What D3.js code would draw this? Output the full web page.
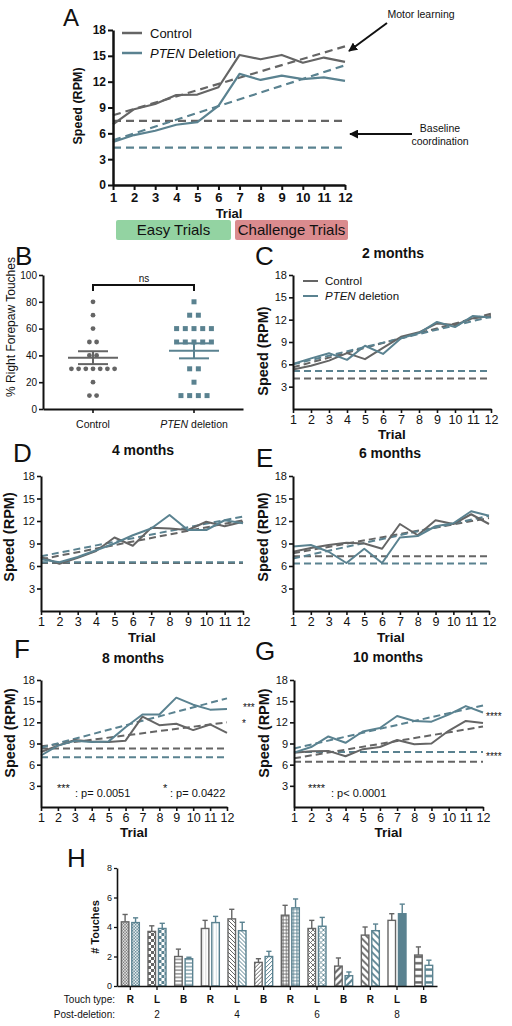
<!DOCTYPE html>
<html><head><meta charset="utf-8">
<script src="https://cdn.jsdelivr.net/npm/d3@7"></script>
<style>
body{margin:0;background:#fff}
svg{display:block}
text{font-family:"Liberation Sans",Arial,Helvetica,sans-serif;fill:#111}
</style>
</head><body>
<svg id="c" width="512" height="1026"></svg>
<script>
// ---------------- DATA ----------------
const trials = [1,2,3,4,5,6,7,8,9,10,11,12];
const speedTicksA = [0,3,6,9,12,15,18];
const speedTicks = [3,6,9,12,15,18];

// Panel A
const aControl = [7.05,8.8,9.4,10.45,10.5,11.35,15.1,14.6,15.1,14.2,14.8,14.3];
const aPten    = [5.0,5.8,6.3,7.0,7.3,9.2,12.9,12.2,12.7,12.3,12.5,12.1];
const aTrendControl = [8.1,16.1];
const aTrendPten    = [5.2,13.9];
const aBaseline = [7.45,4.35]; // control, PTEN

// Panel B
const bCategories = ["Control","PTEN deletion"];
const bControl = [80,70,60,50,50,40,40,30,30,30,30,30,30,30,20,10,10];
const bPten = [80,70,70,60,60,60,60,60,50,50,50,50,50,30,30,20,10,10,10,10];
const bMean = [38.3,43.4];
const bSem  = [4.8,5.6];
const bTicks = [0,20,40,60,80,100];

// Panel C (2 months)
const cControl = [5.3,5.8,6.5,7.5,6.7,8.2,9.7,10.3,11.5,11.3,12.2,12.5];
const cPten    = [6.05,6.8,7.5,6.6,8.5,7.4,9.5,10.2,11.7,11.0,12.5,12.3];
const cTrendControl = [5.6,12.8];
const cTrendPten    = [6.0,12.4];
const cBaseline = [4.1,5.1];
// Panel D (4 months)
const dControl = [7.2,6.3,7.1,8.0,9.8,8.7,11.1,11.0,10.8,11.9,11.3,11.9];
const dPten    = [6.9,6.5,7.2,8.1,9.0,10.1,11.0,12.8,10.8,10.8,12.1,11.7];
const dTrendControl = [6.9,12.1];
const dTrendPten    = [7.3,12.6];
const dBaseline = [6.4,6.5];
// Panel E (6 months)
const eControl = [7.9,8.4,8.8,9.1,9.0,8.3,11.6,10.1,12.1,11.6,12.9,11.6];
const ePten    = [8.6,8.8,7.9,6.4,8.3,6.4,9.8,10.0,11.3,11.7,13.3,12.7];
const eTrendControl = [7.7,12.4];
const eTrendPten    = [7.0,12.7];
const eBaseline = [7.3,6.35];
// Panel F (8 months)
const fControl = [7.8,8.7,9.5,9.3,9.2,9.4,12.8,11.6,11.8,10.9,11.7,10.5];
const fPten    = [7.3,8.7,9.4,9.2,9.3,11.3,13.1,13.1,15.5,14.5,13.8,13.9];
const fTrendControl = [8.6,12.0];
const fTrendPten    = [8.4,15.4];
const fBaseline = [8.3,7.05];
// Panel G (10 months)
const gControl = [7.7,7.9,7.95,7.2,8.2,8.5,9.5,8.9,9.0,10.8,12.2,11.9];
const gPten    = [7.7,8.5,10.0,9.1,10.7,11.2,12.9,12.2,12.1,13.1,14.3,13.4];
const gTrendControl = [6.9,11.4];
const gTrendPten    = [8.3,14.4];
const gBaseline = [6.4,7.8];

// Panel H
const hTouchTypes = ["R","L","B","R","L","B","R","L","B","R","L","B"];
const hGroups = ["2","4","6","8"];
const hControl    = [4.35,3.7,2.0,3.9,4.55,1.6,4.8,3.9,1.35,3.45,4.45,2.1];
const hControlErr = [0.5,0.38,0.5,0.55,0.65,0.25,0.67,0.55,0.55,0.55,0.45,0.55];
const hPten       = [4.3,3.9,1.85,4.3,3.75,2.0,5.3,4.05,0.7,3.75,4.9,1.4];
const hPtenErr    = [0.32,0.35,0.1,0.42,0.57,0.35,0.6,0.6,0.25,0.45,0.65,0.35];
const hTicks = [0,2,4,6,8];

// ---------------- STYLE ----------------
const GRAY = "#656565", BLUE = "#5a8290";
const hPatternTypes = ["checkfine","checker","hlines","vlines","diagback","diagfwd","grid","crossdiag","widefwd","wideback","solid","bricks"];

const svg = d3.select("#c");
const defs = svg.append("defs");

function styleAxis(ax, sw, fs, bold){
  ax.select(".domain").attr("stroke","#111").attr("stroke-width",sw);
  ax.selectAll(".tick line").attr("stroke","#111").attr("stroke-width",sw*0.8);
  ax.selectAll(".tick text").attr("fill","#111").style("font-size",fs+"px").style("font-weight",bold?"bold":"normal");
}

function addText(x,y,t,o={}){
  const el = svg.append("text").attr("x",x).attr("y",y)
    .attr("text-anchor",o.anchor||"start")
    .style("font-size",(o.size||12)+"px")
    .style("font-weight",o.bold?"bold":"normal");
  if(o.rotate){ el.attr("transform",`rotate(-90,${x},${y})`); }
  if(o.fill) el.style("fill",o.fill);
  el.text(t);
  return el;
}

function speedPanel(o){
  const x = d3.scaleLinear().domain([1,12]).range([o.left,o.right]);
  const y = d3.scaleLinear().domain([0,18]).range([o.bottom,o.top]);
  const g = svg.append("g");
  const dash = o.dash || "7,4";
  [[o.base[0],GRAY],[o.base[1],BLUE]].forEach(([v,c])=>{
    g.append("line").attr("x1",x(1)).attr("x2",x(12)).attr("y1",y(v)).attr("y2",y(v))
      .attr("stroke",c).attr("stroke-width",o.dw||2).attr("stroke-dasharray",dash);
  });
  [[o.trendC,GRAY],[o.trendP,BLUE]].forEach(([t,c])=>{
    g.append("line").attr("x1",x(1)).attr("x2",x(12)).attr("y1",y(t[0])).attr("y2",y(t[1]))
      .attr("stroke",c).attr("stroke-width",o.dw||2).attr("stroke-dasharray",dash);
  });
  const line = d3.line().x((d,i)=>x(trials[i])).y(d=>y(d));
  [[o.control,GRAY],[o.pten,BLUE]].forEach(([arr,c])=>{
    g.append("path").datum(arr).attr("d",line).attr("fill","none")
      .attr("stroke",c).attr("stroke-width",o.lw||2).attr("stroke-linejoin","round");
  });
  const xa = g.append("g").attr("transform",`translate(0,${o.bottom})`)
    .call(d3.axisBottom(x).tickValues(trials).tickSize(o.ts||4).tickSizeOuter(0).tickPadding(o.tp||3).tickFormat(d3.format("d")));
  styleAxis(xa, o.aw||2, o.xfs||13, o.bold);
  const ya = g.append("g").attr("transform",`translate(${o.left},0)`)
    .call(d3.axisLeft(y).tickValues(o.yTicks).tickSize(o.ts||4).tickSizeOuter(0).tickPadding(2).tickFormat(d3.format("d")));
  styleAxis(ya, o.aw||2, o.yfs||11, o.bold);
  return {x,y};
}

// ---------------- PANEL A ----------------
const A = speedPanel({left:113,right:345,bottom:185,top:30,control:aControl,pten:aPten,
  trendC:aTrendControl,trendP:aTrendPten,base:aBaseline,yTicks:speedTicksA,
  aw:2.5,ts:5,xfs:13,yfs:12,bold:true,dw:2.2,lw:2.2,dash:"8,5"});
addText(63,26,"A",{size:24});
addText(82,106,"Speed (RPM)",{size:12.5,bold:true,anchor:"middle",rotate:true});
addText(229,218,"Trial",{size:13,bold:true,anchor:"middle"});
// legend A
svg.append("line").attr("x1",122).attr("x2",142).attr("y1",33).attr("y2",33).attr("stroke",GRAY).attr("stroke-width",2.5);
svg.append("line").attr("x1",122).attr("x2",142).attr("y1",53).attr("y2",53).attr("stroke",BLUE).attr("stroke-width",2.5);
addText(150,38,"Control",{size:13});
const la = addText(150,58,"",{size:13});
la.append("tspan").style("font-style","italic").text("PTEN");
la.append("tspan").text(" Deletion");
// arrows
defs.append("marker").attr("id","arr").attr("viewBox","0 0 10 10").attr("refX",9).attr("refY",5)
  .attr("markerWidth",4.5).attr("markerHeight",4.5).attr("orient","auto")
  .append("path").attr("d","M0,0L10,5L0,10z").attr("fill","#111");
svg.append("line").attr("x1",387).attr("y1",23).attr("x2",349).attr("y2",51).attr("stroke","#111").attr("stroke-width",2).attr("marker-end","url(#arr)");
svg.append("line").attr("x1",412).attr("y1",134).attr("x2",350).attr("y2",134).attr("stroke","#111").attr("stroke-width",2).attr("marker-end","url(#arr)");
addText(421,18,"Motor learning",{size:10.5,anchor:"middle"});
addText(440,132,"Baseline",{size:10.5,anchor:"middle"});
addText(440,145,"coordination",{size:10.5,anchor:"middle"});
// Easy / Challenge boxes
svg.append("rect").attr("x",116).attr("y",220).attr("width",115).attr("height",20).attr("rx",2).attr("fill","#93d3a2");
svg.append("rect").attr("x",235).attr("y",220).attr("width",113).attr("height",20).attr("rx",2).attr("fill","#da8b8e");
addText(173.5,235,"Easy Trials",{size:15,anchor:"middle"});
addText(291.5,235,"Challenge Trials",{size:15,anchor:"middle"});

// ---------------- PANEL B ----------------
(function(){
  const x = d3.scalePoint().domain(bCategories).range([93,194]);
  const y = d3.scaleLinear().domain([0,100]).range([409,275]);
  const g = svg.append("g");
  const xa = g.append("g").attr("transform","translate(0,409)")
    .call(d3.axisBottom(d3.scaleLinear().domain([0,1]).range([43,243])).tickValues([]).tickSizeOuter(0));
  styleAxis(xa,2,10,false);
  bCategories.forEach(c=>{
    g.append("line").attr("x1",x(c)).attr("x2",x(c)).attr("y1",409).attr("y2",413).attr("stroke","#111").attr("stroke-width",1.6);
  });
  const ya = g.append("g").attr("transform","translate(43,0)")
    .call(d3.axisLeft(y).tickValues(bTicks).tickSize(4).tickSizeOuter(0).tickPadding(2));
  styleAxis(ya,2,10,false);
  function swarm(vals){
    const groups = d3.groups(vals,d=>d);
    const out=[];
    groups.forEach(([v,arr])=>arr.forEach((d,i)=>out.push({v,off:i-(arr.length-1)/2})));
    return out;
  }
  g.selectAll(".cdot").data(swarm(bControl)).join("circle")
    .attr("cx",d=>x(bCategories[0])+d.off*7.2).attr("cy",d=>y(d.v)).attr("r",2.4).attr("fill",GRAY);
  g.selectAll(".pdot").data(swarm(bPten)).join("rect")
    .attr("x",d=>x(bCategories[1])+d.off*8.7-2.5).attr("y",d=>y(d.v)-2.5).attr("width",5).attr("height",5).attr("fill",BLUE);
  [[0,GRAY],[1,BLUE]].forEach(([i,c])=>{
    const cx = x(bCategories[i]);
    g.append("line").attr("x1",cx-25).attr("x2",cx+25).attr("y1",y(bMean[i])).attr("y2",y(bMean[i])).attr("stroke",c).attr("stroke-width",2);
    g.append("line").attr("x1",cx).attr("x2",cx).attr("y1",y(bMean[i]-bSem[i])).attr("y2",y(bMean[i]+bSem[i])).attr("stroke",c).attr("stroke-width",2);
    [bMean[i]-bSem[i],bMean[i]+bSem[i]].forEach(v=>
      g.append("line").attr("x1",cx-15).attr("x2",cx+15).attr("y1",y(v)).attr("y2",y(v)).attr("stroke",c).attr("stroke-width",2));
  });
  g.append("path").attr("d",`M${x(bCategories[0])},291V285H${x(bCategories[1])}V291`).attr("fill","none").attr("stroke","#111").attr("stroke-width",2);
  addText(144,282,"ns",{size:10,anchor:"middle"});
  addText(x(bCategories[0]),428,"Control",{size:10.5,anchor:"middle"});
  const t = addText(x(bCategories[1]),428,"",{size:10.5,anchor:"middle"});
  t.append("tspan").style("font-style","italic").text("PTEN");
  t.append("tspan").text(" deletion");
  addText(15,327,"% Right Forepaw Touches",{size:12,anchor:"middle",rotate:true});
  addText(15,265,"B",{size:26});
})();

// ---------------- PANELS C-G ----------------
const small = [
  {L:"C",lx:255,ly:265,title:"2 months",tx:393,ty:258,left:293,right:491,bottom:409,top:275,c:cControl,p:cPten,tc:cTrendControl,tp:cTrendPten,b:cBaseline,ylx:268,yly:351,tly:439},
  {L:"D",lx:13,ly:462,title:"4 months",tx:143,ty:455,left:41,right:243,bottom:611,top:476,c:dControl,p:dPten,tc:dTrendControl,tp:dTrendPten,b:dBaseline,ylx:14,yly:537,tly:642},
  {L:"E",lx:256,ly:467,title:"6 months",tx:390,ty:458,left:293,right:489,bottom:611,top:476,c:eControl,p:ePten,tc:eTrendControl,tp:eTrendPten,b:eBaseline,ylx:268,yly:537,tly:642},
  {L:"F",lx:14,ly:658,title:"8 months",tx:133,ty:663,left:41,right:227,bottom:807,top:680,c:fControl,p:fPten,tc:fTrendControl,tp:fTrendPten,b:fBaseline,ylx:15,yly:733,tly:837},
  {L:"G",lx:255,ly:660,title:"10 months",tx:388,ty:662,left:294,right:483,bottom:807,top:680,c:gControl,p:gPten,tc:gTrendControl,tp:gTrendPten,b:gBaseline,ylx:269,yly:733,tly:837}
];
small.forEach(s=>{
  speedPanel({left:s.left,right:s.right,bottom:s.bottom,top:s.top,control:s.c,pten:s.p,
    trendC:s.tc,trendP:s.tp,base:s.b,yTicks:speedTicks,aw:2,ts:4,tp:2,xfs:12.5,yfs:11,bold:false,dw:2,lw:2,dash:"7,4"});
  addText(s.lx,s.ly,s.L,{size:26});
  addText(s.tx,s.ty,s.title,{size:14,bold:true,anchor:"middle"});
  addText(s.ylx,s.yly,"Speed (RPM)",{size:14.5,bold:true,anchor:"middle",rotate:true});
  addText((s.left+s.right)/2,s.tly,"Trial",{size:13.5,bold:true,anchor:"middle"});
});
// legend C
svg.append("line").attr("x1",303).attr("x2",318).attr("y1",281).attr("y2",281).attr("stroke",GRAY).attr("stroke-width",2);
svg.append("line").attr("x1",303).attr("x2",318).attr("y1",296).attr("y2",296).attr("stroke",BLUE).attr("stroke-width",2);
addText(325,285,"Control",{size:11.5});
const lc = addText(325,300,"",{size:11.5});
lc.append("tspan").style("font-style","italic").text("PTEN");
lc.append("tspan").text(" deletion");
// F annotations
addText(243,711,"***",{size:10});
addText(242,727,"*",{size:10});
addText(57,792,"***",{size:11});
addText(75,797,": p= 0.0051",{size:11});
addText(163,792,"*",{size:11});
addText(170,797,": p= 0.0422",{size:11});
// G annotations
addText(486,720,"****",{size:10});
addText(486,760,"****",{size:10});
addText(308,792,"****",{size:11});
addText(331,797,": p< 0.0001",{size:11});

// ---------------- PANEL H ----------------
(function(){
  const x = d3.scaleBand().domain(d3.range(12)).range([117,437]);
  const inner = d3.scaleBand().domain([0,1]).range([-9,9]).paddingInner(0.28);
  const y = d3.scaleLinear().domain([0,8]).range([986,868]);
  const g = svg.append("g");
  function makePattern(id,type,color,ox){
    const p = defs.append("pattern").attr("id",id).attr("patternUnits","userSpaceOnUse").attr("x",ox).attr("y",0);
    const sz = {checkfine:3,checker:6,hlines:3.6,vlines:3,diagback:4,diagfwd:4,grid:3.4,crossdiag:5,widefwd:7,wideback:7,solid:4,bricks:6.4}[type];
    p.attr("width",sz).attr("height",sz);
    p.append("rect").attr("width",sz).attr("height",sz).attr("fill",type==="solid"&&color===BLUE?color:"#fff");
    const ln=(d,w)=>p.append("path").attr("d",d).attr("stroke",color).attr("stroke-width",w).attr("fill","none");
    const s=sz;
    if(type==="checkfine"||type==="checker"){p.append("rect").attr("width",s/2).attr("height",s/2).attr("fill",color);p.append("rect").attr("x",s/2).attr("y",s/2).attr("width",s/2).attr("height",s/2).attr("fill",color);}
    if(type==="hlines") ln(`M0,${s/2}H${s}`,1.1);
    if(type==="vlines") p.append("path").attr("d",`M${s/2},0V${s}`).attr("stroke",color).attr("stroke-width",0.7).attr("opacity",0.35);
    if(type==="diagback") ln(`M0,0L${s},${s}M${-s/2},${s/2}L${s/2},${s*1.5}M${s/2},${-s/2}L${s*1.5},${s/2}`,1);
    if(type==="diagfwd") ln(`M0,${s}L${s},0M${-s/2},${s/2}L${s/2},${-s/2}M${s/2},${s*1.5}L${s*1.5},${s/2}`,1);
    if(type==="grid") ln(`M0,${s/2}H${s}M${s/2},0V${s}`,0.9);
    if(type==="crossdiag") ln(`M0,0L${s},${s}M0,${s}L${s},0`,0.9);
    if(type==="widefwd") ln(`M0,${s}L${s},0M${-s/2},${s/2}L${s/2},${-s/2}M${s/2},${s*1.5}L${s*1.5},${s/2}`,2.2);
    if(type==="wideback") ln(`M0,0L${s},${s}M${-s/2},${s/2}L${s/2},${s*1.5}M${s/2},${-s/2}L${s*1.5},${s/2}`,1.8);
    if(type==="bricks") p.append("rect").attr("y",s/2-1.2).attr("width",s).attr("height",2.4).attr("fill",color);
  }
  const series = [[hControl,hControlErr,GRAY],[hPten,hPtenErr,BLUE]];
  d3.range(12).forEach(i=>{
    const cx = x(i)+x.bandwidth()/2;
    series.forEach(([vals,errs,col],j)=>{
      const bx = cx+inner(j), bw = inner.bandwidth();
      const id = `hp${i}_${j}`;
      makePattern(id,hPatternTypes[i],col,bx);
      g.append("line").attr("x1",bx+bw/2).attr("x2",bx+bw/2).attr("y1",y(vals[i])).attr("y2",y(vals[i]+errs[i])).attr("stroke",col).attr("stroke-width",1.4);
      g.append("line").attr("x1",bx+bw/2-2.6).attr("x2",bx+bw/2+2.6).attr("y1",y(vals[i]+errs[i])).attr("y2",y(vals[i]+errs[i])).attr("stroke",col).attr("stroke-width",1.4);
      g.append("rect").attr("x",bx).attr("y",y(vals[i])).attr("width",bw).attr("height",y(0)-y(vals[i]))
        .attr("fill",`url(#${id})`).attr("stroke",col).attr("stroke-width",1.4);
    });
    addText(cx,1003,hTouchTypes[i],{size:10,bold:true,anchor:"middle"});
  });
  const xa = g.append("g").attr("transform","translate(0,986)")
    .call(d3.axisBottom(x).tickSize(4).tickSizeOuter(0).tickFormat(""));
  styleAxis(xa,1.6,9,false);
  const ya = g.append("g").attr("transform","translate(117,0)")
    .call(d3.axisLeft(y).tickValues(hTicks).tickSize(3).tickSizeOuter(0).tickPadding(2));
  styleAxis(ya,1.6,9,false);
  hGroups.forEach((gr,k)=>{
    const cx = x(k*3+1)+x.bandwidth()/2;
    addText(cx,1018,gr,{size:10,anchor:"middle"});
  });
  addText(115,1003,"Touch type:",{size:10,anchor:"end"});
  addText(115,1018,"Post-deletion:",{size:10,anchor:"end"});
  addText(99,927,"# Touches",{size:11,bold:true,anchor:"middle",rotate:true});
  addText(67,867,"H",{size:26});
})();
</script>
</body></html>
